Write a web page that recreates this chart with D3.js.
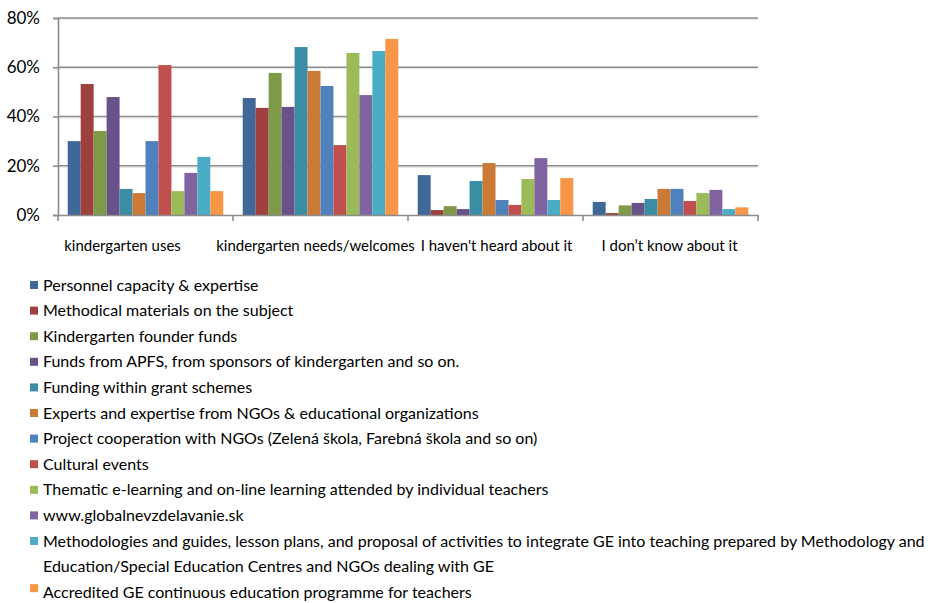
<!DOCTYPE html>
<html>
<head>
<meta charset="utf-8">
<script src="https://cdn.jsdelivr.net/npm/d3@7"></script>
<style>
  html, body { margin: 0; padding: 0; background: #ffffff; }
  svg { display: block; }
  text { font-family: Lato, "Liberation Sans", sans-serif; fill: #000; }
</style>
</head>
<body>
<svg id="chart" width="935" height="603"></svg>
<script>
// Response categories along the x axis
const categories = [
  "kindergarten uses",
  "kindergarten needs/welcomes",
  "I haven't heard about it",
  "I don\u2019t know about it"
];

// Support types (one series each), in legend order
const seriesNames = [
  "Personnel capacity & expertise",
  "Methodical materials on the subject",
  "Kindergarten founder funds",
  "Funds from APFS, from sponsors of kindergarten and so on.",
  "Funding within grant schemes",
  "Experts and expertise from NGOs & educational organizations",
  "Project cooperation with NGOs (Zelená škola, Farebná škola and so on)",
  "Cultural events",
  "Thematic e-learning and on-line learning attended by individual teachers",
  "www.globalnevzdelavanie.sk",
  "Methodologies and guides, lesson plans, and proposal of activities to integrate GE into teaching prepared by Methodology and Education/Special Education Centres and NGOs dealing with GE",
  "Accredited GE continuous education programme for teachers"
];

// Share of kindergartens (%) per series, one value per category
const personnel     = [30.0, 47.5, 16.2, 5.3];
const methodical    = [53.2, 43.5,  2.0, 0.8];
const founderFunds  = [34.1, 57.7,  3.6, 3.9];
const apfsFunds     = [47.9, 43.9,  2.4, 4.9];
const grantSchemes  = [10.6, 68.2, 13.8, 6.5];
const ngoExperts    = [ 8.9, 58.5, 21.1, 10.6];
const ngoProjects   = [30.0, 52.4,  6.1, 10.6];
const cultural      = [60.9, 28.4,  4.1, 5.7];
const eLearning     = [ 9.7, 65.8, 14.6, 8.9];
const website       = [17.1, 48.7, 23.1, 10.2];
const methodologies = [23.6, 66.6,  6.1, 2.4];
const accredited    = [ 9.7, 71.5, 15.0, 3.1];

const seriesValues = [personnel, methodical, founderFunds, apfsFunds, grantSchemes,
  ngoExperts, ngoProjects, cultural, eLearning, website, methodologies, accredited];

const yTicks = [0, 20, 40, 60, 80];

const colors = ["#3F6797", "#9E413E", "#7E9A48", "#69518A", "#3A8DA3", "#CB7A35",
                "#4F81BD", "#C0504D", "#9BBB59", "#8064A2", "#4BACC6", "#F79646"];

const svg = d3.select("#chart");
const plot = { left: 58, right: 758, top: 18, bottom: 215 };

const x0 = d3.scaleBand().domain(categories).range([plot.left, plot.right]).paddingInner(0).paddingOuter(0);
const x1 = d3.scaleBand().domain(d3.range(seriesNames.length))
  .range([0, x0.bandwidth()]).paddingInner(0).paddingOuter(0.75);
const y = d3.scaleLinear().domain([0, 80]).range([plot.bottom, plot.top]);

// Horizontal gridlines with a faint lighter line beneath
const grid = svg.append("g");
yTicks.filter(t => t > 0).forEach(t => {
  grid.append("line").attr("x1", plot.left).attr("x2", plot.right)
    .attr("y1", y(t) + 1.5).attr("y2", y(t) + 1.5).attr("stroke", "#e4e4e4").attr("stroke-width", 1);
  grid.append("line").attr("x1", plot.left).attr("x2", plot.right)
    .attr("y1", y(t)).attr("y2", y(t)).attr("stroke", "#8c8c8c").attr("stroke-width", 1.6);
});

// Bars
const groups = svg.append("g").selectAll("g").data(categories).join("g")
  .attr("transform", d => `translate(${x0(d)},0)`);
groups.selectAll("rect")
  .data((c, ci) => seriesValues.map((vals, si) => ({ si, v: vals[ci] })))
  .join("rect")
  .attr("x", d => x1(d.si))
  .attr("width", x1.bandwidth())
  .attr("y", d => y(d.v))
  .attr("height", d => y(0) - y(d.v))
  .attr("fill", d => colors[d.si]);

// Y axis
const yAxis = svg.append("g").attr("transform", `translate(${plot.left},0)`)
  .call(d3.axisLeft(y).tickValues(yTicks).tickFormat(d => d + "%").tickSize(5).tickPadding(13));
yAxis.select(".domain").attr("stroke", "#8c8c8c").attr("stroke-width", 1.6);
yAxis.selectAll(".tick line").attr("stroke", "#8c8c8c").attr("stroke-width", 1.6);
yAxis.selectAll(".tick text").attr("font-size", 17).attr("font-family", "Lato, sans-serif").attr("fill", "#000");

// X axis with category boundary ticks
const xAxis = svg.append("g").attr("transform", `translate(0,${plot.bottom})`)
  .call(d3.axisBottom(x0).tickSize(0).tickPadding(25));
xAxis.select(".domain").attr("stroke", "#8c8c8c").attr("stroke-width", 1.6);
xAxis.selectAll(".tick text").attr("font-size", 15).attr("font-family", "Lato, sans-serif").attr("fill", "#000");
const labelShift = [-23, -5, 1, -1];
xAxis.selectAll(".tick text").attr("dx", (d, i) => labelShift[i]);
const bounds = categories.map(c => x0(c)).concat([plot.right]);
xAxis.selectAll(".bound").data(bounds).join("line")
  .attr("x1", d => d).attr("x2", d => d).attr("y1", 0).attr("y2", 6)
  .attr("stroke", "#8c8c8c").attr("stroke-width", 1.6);

// Legend
const legendRows = [
  { si: 0, lines: [seriesNames[0]] },
  { si: 1, lines: [seriesNames[1]] },
  { si: 2, lines: [seriesNames[2]] },
  { si: 3, lines: [seriesNames[3]] },
  { si: 4, lines: [seriesNames[4]] },
  { si: 5, lines: [seriesNames[5]] },
  { si: 6, lines: [seriesNames[6]] },
  { si: 7, lines: [seriesNames[7]] },
  { si: 8, lines: [seriesNames[8]] },
  { si: 9, lines: [seriesNames[9]] },
  { si: 10, lines: ["Methodologies and guides, lesson plans, and proposal of activities to integrate GE into teaching prepared by Methodology and",
                    "Education/Special Education Centres and NGOs dealing with GE"] },
  { si: 11, lines: [seriesNames[11]], top: true }
];
const legend = svg.append("g");
let rowY = 285;
legendRows.forEach(r => {
  legend.append("rect").attr("x", 30).attr("y", r.top ? rowY - 8 : rowY - 4)
    .attr("width", 8).attr("height", 8).attr("fill", colors[r.si]);
  r.lines.forEach((ln, li) => {
    legend.append("text").attr("x", 43).attr("y", rowY + li * 25.6 + 5.5)
      .attr("font-size", 16).text(ln);
  });
  rowY += 25.6 * r.lines.length;
});
</script>
</body>
</html>
